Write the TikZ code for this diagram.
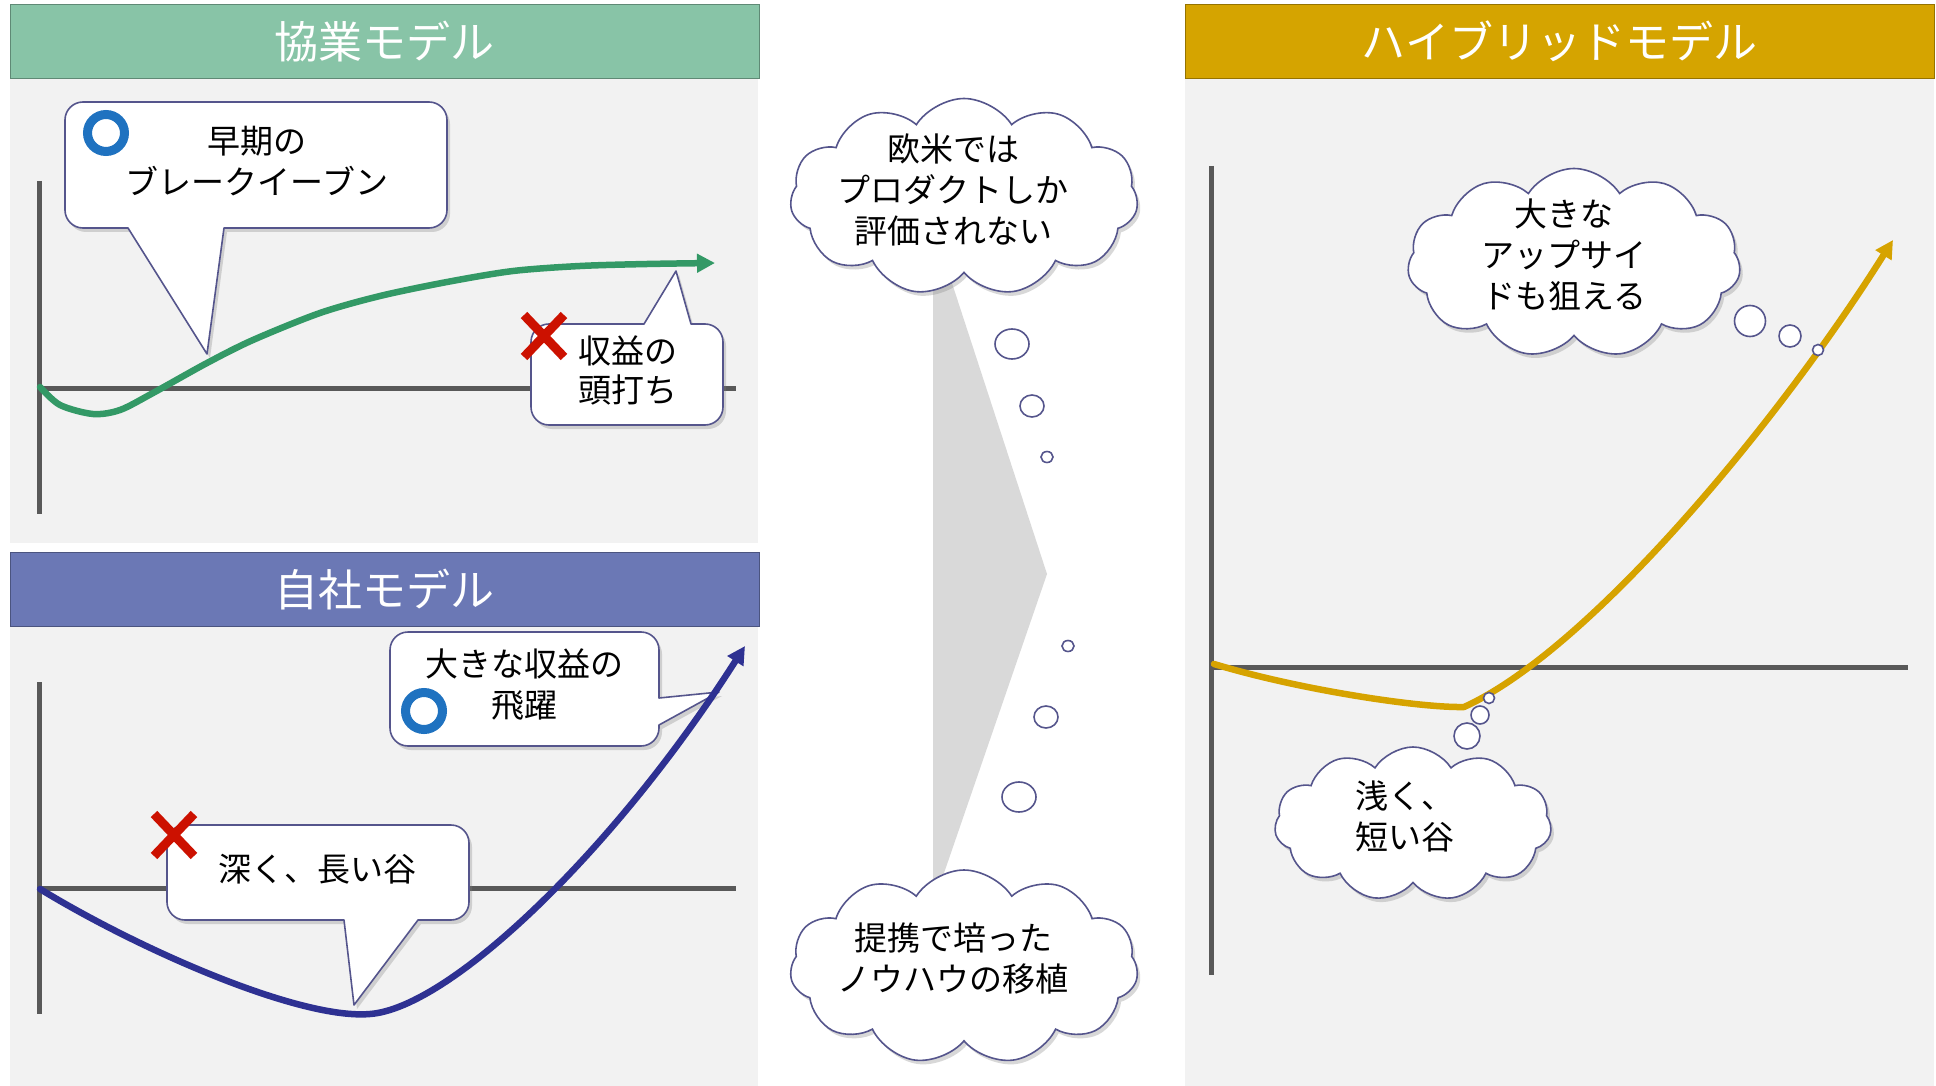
\documentclass[tikz,border=0pt]{standalone}
\usepackage{fontspec}
\setmainfont{Noto Sans CJK JP}
\usetikzlibrary{shapes.symbols,shapes.geometric,shadows,arrows.meta}
\definecolor{panelbg}{HTML}{F2F2F2}
\definecolor{greenbar}{HTML}{88C4A7}
\definecolor{bluebar}{HTML}{6B78B5}
\definecolor{goldbar}{HTML}{D5A400}
\definecolor{axisgray}{HTML}{595959}
\definecolor{lineedge}{HTML}{55558C}
\definecolor{ringblue}{HTML}{1F72C0}
\definecolor{xred}{HTML}{CC1100}
\definecolor{greencurve}{HTML}{339966}
\definecolor{navycurve}{HTML}{2E3192}
\definecolor{goldcurve}{HTML}{D6A300}
\definecolor{chevgray}{HTML}{D9D9D9}
\newcommand\ttlfnt{\fontsize{44pt}{50pt}\selectfont}
\newcommand\bdyfnt{\fontsize{33pt}{41pt}\selectfont}
\begin{document}
\begin{tikzpicture}[x=1pt,y=-1pt,
  titlebar/.style={rectangle, inner sep=0, minimum width=749pt, minimum height=74pt, text=white, font=\ttlfnt},
  axisline/.style={draw=axisgray, line width=5pt},
  cbox/.style={draw=lineedge, fill=white, line width=1.6pt, line join=round,
    drop shadow={opacity=0.3, shadow xshift=3pt, shadow yshift=-4pt}},
  txt/.style={font=\bdyfnt, align=center, inner sep=0},
  ring/.style={circle, draw=ringblue, line width=9pt, minimum size=37pt, inner sep=0},
  xline/.style={draw=xred, line width=9pt},
  curve/.style={line width=6.5pt, line cap=round, line join=round},
  thought/.style={cloud, cloud puffs=11, cloud puff arc=115, cloud ignores aspect,
    draw=lineedge, fill=white, line width=1.6pt, inner sep=0,
    drop shadow={opacity=0.3, shadow xshift=3pt, shadow yshift=-4pt}},
  bubble/.style={ellipse, draw=lineedge, fill=white, line width=1.6pt, inner sep=0},
]
\useasboundingbox (0,0) rectangle (1936,1086);
\fill[white] (0,0) rectangle (1936,1086);
% panels
\fill[panelbg] (10,79) rectangle (758,543);
\fill[panelbg] (10,627) rectangle (758,1086);
\fill[panelbg] (1185,78) rectangle (1934,1086);
% title bars
\node[titlebar, fill=greenbar, draw=greenbar!70!black, line width=1pt] (t1) at (384.5,42) {協業モデル};
\node[titlebar, fill=bluebar, draw=bluebar!70!black, line width=1pt] (t2) at (384.5,589.5) {自社モデル};
\node[titlebar, fill=goldbar, draw=goldbar!70!black, line width=1pt] (t3) at (1559.5,41.5) {ハイブリッドモデル};
% axes
\draw[axisline] (39,181) -- (39,514);
\draw[axisline] (39,388) -- (736,388);
\draw[axisline] (39,682) -- (39,1014);
\draw[axisline] (39,888) -- (736,888);
\draw[axisline] (1211,166) -- (1211,975);
\draw[axisline] (1211,667) -- (1908,667);
% chevron
\fill[chevgray] (933,225) -- (1047,574) -- (933,905) -- cycle;
% callouts
\path[cbox] (83,102) -- (429,102) arc[start angle=270,end angle=360,radius=18] -- (447,210) arc[start angle=0,end angle=90,radius=18] -- (224,228) -- (207,354) -- (128,228) -- (83,228) arc[start angle=90,end angle=180,radius=18] -- (65,120) arc[start angle=180,end angle=270,radius=18] -- cycle;
\path[cbox] (549,324) -- (644,324) -- (676,271) -- (691,324) -- (705,324) arc[start angle=270,end angle=360,radius=18] -- (723,407) arc[start angle=0,end angle=90,radius=18] -- (549,425) arc[start angle=90,end angle=180,radius=18] -- (531,342) arc[start angle=180,end angle=270,radius=18] -- cycle;
\path[cbox] (408,632) -- (641,632) arc[start angle=270,end angle=360,radius=18] -- (659,698) -- (719,692) -- (659,725) -- (659,728) arc[start angle=0,end angle=90,radius=18] -- (408,746) arc[start angle=90,end angle=180,radius=18] -- (390,650) arc[start angle=180,end angle=270,radius=18] -- cycle;
\path[cbox] (185,825) -- (451,825) arc[start angle=270,end angle=360,radius=18] -- (469,902) arc[start angle=0,end angle=90,radius=18] -- (418,920) -- (354,1005) -- (344,920) -- (185,920) arc[start angle=90,end angle=180,radius=18] -- (167,843) arc[start angle=180,end angle=270,radius=18] -- cycle;
\node[txt] (c1) at (257,161.5) {早期の\\ブレークイーブン};
\node[txt, font=\fontsize{33pt}{39pt}\selectfont] (c2) at (628,370) {収益の\\頭打ち};
\node[txt] (c3) at (524,685) {大きな収益の\\飛躍};
\node[txt] (c4) at (317,869) {深く、長い谷};
% curves
\draw[curve, draw=greencurve, -{Triangle[length=18pt,width=18pt]}] plot[smooth, tension=0.5] coordinates {(40,387) (60,405) (93,414) (120,410) (153,393) (207,363) (253,340) (320,313) (380,296) (447,282) (513,271) (580,266) (647,264) (715,263)};
\draw[curve, draw=navycurve, -{Triangle[length=18pt,width=18pt]}] (40,889) .. controls (140,950) and (300,1020) .. (370,1014) .. controls (450,1008) and (615,850) .. (745,646);
\draw[curve, draw=goldcurve, -{Triangle[length=18pt,width=18pt]}] (1214,664) .. controls (1300,690) and (1420,708) .. (1464,707) .. controls (1590,650) and (1780,420) .. (1893,240);
% rings and crosses
\node[ring] (r1) at (106,133) {};
\node[ring] (r2) at (424,711) {};
\coordinate (x1) at (544,336);
\coordinate (x2) at (174,835);
\draw[xline] (x1) +(-20,-21) -- +(20,21);
\draw[xline] (x1) +(20,-21) -- +(-20,21);
\draw[xline] (x2) +(-20,-21) -- +(20,21);
\draw[xline] (x2) +(20,-21) -- +(-20,21);
% clouds
\node[thought, minimum width=348pt, minimum height=197pt] (k1) at (964,197) {};
\node[txt] (k1t) at (953,189.5) {欧米では\\プロダクトしか\\評価されない};
\node[thought, minimum width=348pt, minimum height=194pt] (k2) at (964,967) {};
\node[txt] (k2t) at (953,958.5) {提携で培った\\ノウハウの移植};
\node[thought, minimum width=333pt, minimum height=189pt] (k3) at (1574,263) {};
\node[txt] (k3t) at (1564,255) {大きな\\アップサイ\\ドも狙える};
\node[thought, minimum width=277pt, minimum height=154pt] (k4) at (1413,824) {};
\node[txt] (k4t) at (1405,816.5) {浅く、\\短い谷};
% bubbles
\node[bubble, minimum width=34pt, minimum height=30pt] (b1) at (1012,344) {};
\node[bubble, minimum width=24pt, minimum height=22pt] (b2) at (1032,406) {};
\node[bubble, minimum width=12pt, minimum height=11pt] (b3) at (1047,457) {};
\node[bubble, minimum width=12pt, minimum height=11pt] (b4) at (1068,646) {};
\node[bubble, minimum width=24pt, minimum height=22pt] (b5) at (1046,717) {};
\node[bubble, minimum width=34pt, minimum height=30pt] (b6) at (1019,797) {};
\node[bubble, minimum width=31pt, minimum height=31pt] (b7) at (1750,321) {};
\node[bubble, minimum width=22pt, minimum height=22pt] (b8) at (1790,336) {};
\node[bubble, minimum width=11pt, minimum height=11pt] (b9) at (1818,350) {};
\node[bubble, minimum width=11pt, minimum height=11pt] (b10) at (1489,698) {};
\node[bubble, minimum width=18pt, minimum height=18pt] (b11) at (1480,715) {};
\node[bubble, minimum width=26pt, minimum height=26pt] (b12) at (1467,736) {};
\end{tikzpicture}
\end{document}
